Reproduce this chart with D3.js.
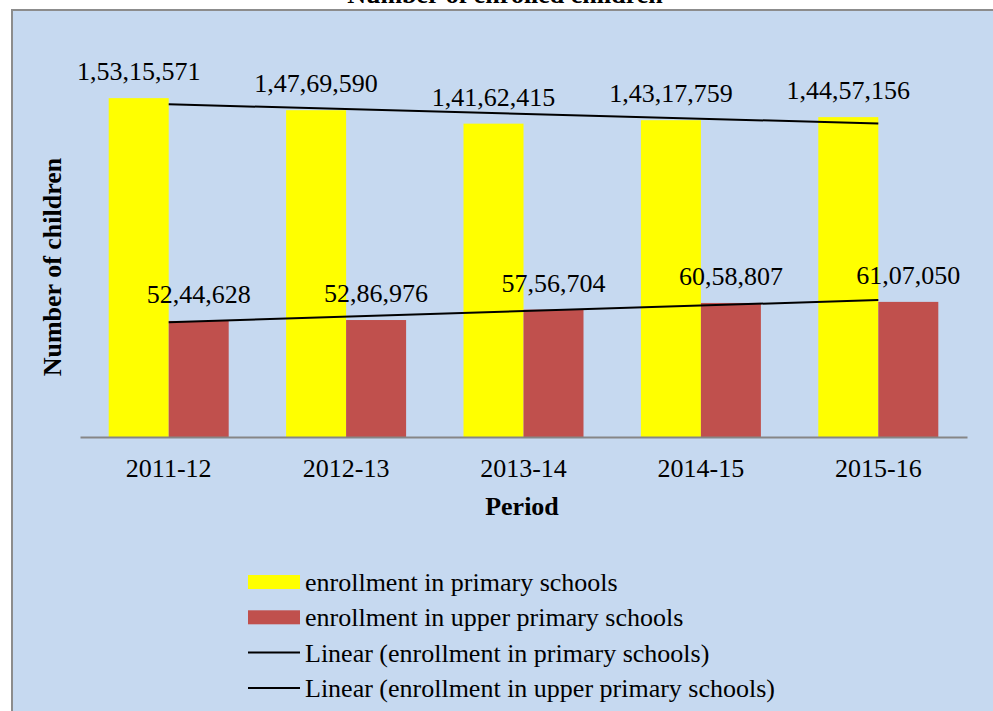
<!DOCTYPE html>
<html>
<head>
<meta charset="utf-8">
<script src="https://cdn.jsdelivr.net/npm/d3@7"></script>
<style>
  body { margin: 0; background: #ffffff; }
  svg { display: block; }
  svg text { font-family: "Liberation Serif", "Times New Roman", serif !important; fill: #000; }
</style>
</head>
<body>
<svg id="chart" width="993" height="711"></svg>
<script>
let periods = ["2011-12", "2012-13", "2013-14", "2014-15", "2015-16"];
let primary = [15315571, 14769590, 14162415, 14317759, 14457156];
let upperPrimary = [5244628, 5286976, 5756704, 6058807, 6107050];
let primaryLabels = ["1,53,15,571", "1,47,69,590", "1,41,62,415", "1,43,17,759", "1,44,57,156"];
let upperLabels = ["52,44,628", "52,86,976", "57,56,704", "60,58,807", "61,07,050"];
let legendNames = ["enrollment in primary schools", "enrollment in upper primary schools",
  "Linear (enrollment in primary schools)", "Linear (enrollment in upper primary schools)"];

let yellow = "#ffff00";
let red = "#c0504d";

let svg = d3.select("#chart");

// chart area box
svg.append("rect")
   .attr("x", 12).attr("y", 10)
   .attr("width", 1000).attr("height", 720)
   .attr("fill", "#c6d9f0")
   .attr("stroke", "#8c8c8c")
   .attr("stroke-width", 2);

// title sits mostly above the page, as in the original
svg.append("text")
   .attr("x", 505).attr("y", 3)
   .attr("text-anchor", "middle")
   .attr("font-size", 26).attr("font-weight", "bold")
   .text("Number of enrolled children");

let x = d3.scaleBand().domain(periods).range([80, 967]);
let y = d3.scaleLinear().domain([0, 16000000]).range([437, 83]);
let barW = 60;

let cx = (d) => x(d) + x.bandwidth() / 2;

// bars
svg.selectAll(".bar-p")
   .data(periods)
   .enter()
   .append("rect")
   .attr("class", "bar-p")
   .attr("x", (d) => cx(d) - barW)
   .attr("y", (d, i) => y(primary[i]))
   .attr("width", barW)
   .attr("height", (d, i) => y(0) - y(primary[i]))
   .attr("fill", yellow);

svg.selectAll(".bar-u")
   .data(periods)
   .enter()
   .append("rect")
   .attr("class", "bar-u")
   .attr("x", (d) => cx(d))
   .attr("y", (d, i) => y(upperPrimary[i]))
   .attr("width", barW)
   .attr("height", (d, i) => y(0) - y(upperPrimary[i]))
   .attr("fill", red);

// x axis
let xAxis = d3.axisBottom(x).tickSize(0).tickPadding(22);
let gx = svg.append("g")
   .attr("transform", "translate(0,437)")
   .call(xAxis);
gx.attr("font-family", null).attr("font-size", 26);
gx.select(".domain").attr("stroke", "#868686").attr("stroke-width", 2);
gx.selectAll("text")
  .attr("font-size", 26)
  .attr("dy", "0.71em");

// linear trend lines (least squares over category index)
let fit = (vals) => {
  let n = vals.length;
  let xs = vals.map((v, i) => i + 1);
  let mx = d3.mean(xs), my = d3.mean(vals);
  let b = d3.sum(xs, (xv, i) => (xv - mx) * (vals[i] - my)) / d3.sum(xs, (xv) => (xv - mx) * (xv - mx));
  let a = my - b * mx;
  return [[periods[0], a + b], [periods[n - 1], a + b * n]];
};

let line = d3.line().x((d) => cx(d[0])).y((d) => y(d[1]));
[primary, upperPrimary].forEach((vals) => {
  svg.append("path")
     .attr("d", line(fit(vals)))
     .attr("stroke", "#000")
     .attr("stroke-width", 2)
     .attr("fill", "none");
});

// data labels
svg.selectAll(".lab-p")
   .data(primaryLabels)
   .enter()
   .append("text")
   .attr("x", (d, i) => cx(periods[i]) - barW / 2)
   .attr("y", (d, i) => y(primary[i]) - 18)
   .attr("text-anchor", "middle")
   .attr("font-size", 26)
   .text((d) => d);

svg.selectAll(".lab-u")
   .data(upperLabels)
   .enter()
   .append("text")
   .attr("x", (d, i) => cx(periods[i]) + barW / 2)
   .attr("y", (d, i) => y(upperPrimary[i]) - 18)
   .attr("text-anchor", "middle")
   .attr("font-size", 26)
   .text((d) => d);

// axis titles
svg.append("text")
   .attr("x", 522).attr("y", 515)
   .attr("text-anchor", "middle")
   .attr("font-size", 26).attr("font-weight", "bold")
   .text("Period");

svg.append("text")
   .attr("transform", "translate(61,267) rotate(-90)")
   .attr("text-anchor", "middle")
   .attr("font-size", 26).attr("font-weight", "bold")
   .text("Number of children");

// legend
let rowY = (i) => 582 + i * 35.3;
let legend = svg.append("g");
legend.selectAll("rect")
      .data([yellow, red])
      .enter()
      .append("rect")
      .attr("x", 248)
      .attr("y", (d, i) => rowY(i) - 7)
      .attr("width", 52)
      .attr("height", 14)
      .attr("fill", (d) => d);
legend.selectAll("line")
      .data([2, 3])
      .enter()
      .append("line")
      .attr("x1", 248).attr("x2", 300)
      .attr("y1", (d) => rowY(d)).attr("y2", (d) => rowY(d))
      .attr("stroke", "#000")
      .attr("stroke-width", 2);
legend.selectAll("text")
      .data(legendNames)
      .enter()
      .append("text")
      .attr("x", 305)
      .attr("y", (d, i) => rowY(i) + 9)
      .attr("font-size", 26)
      .text((d) => d);
</script>
</body>
</html>
